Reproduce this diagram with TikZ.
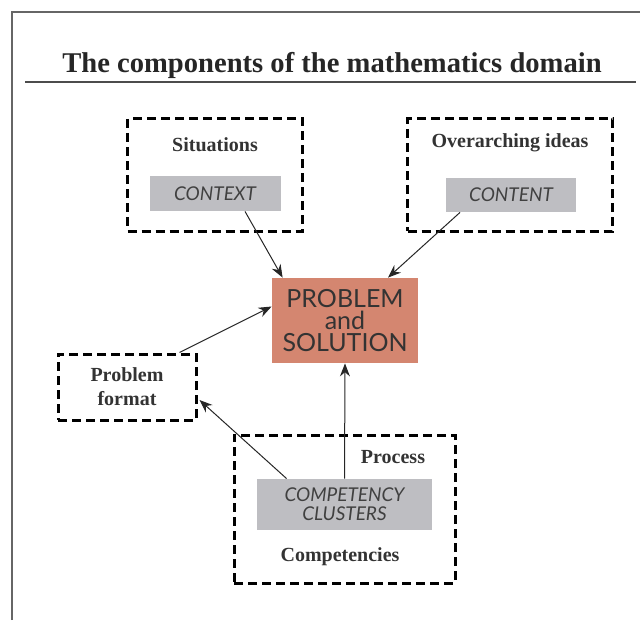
\documentclass[tikz,border=0pt]{standalone}
\usepackage{fontspec}
\setmainfont{Liberation Serif}
\newfontfamily\boxfont{Lato}
\usepackage{tikz}
\usetikzlibrary{arrows.meta}

\definecolor{salmon}{HTML}{D48670}
\definecolor{panel}{HTML}{BEBEC2}

\begin{document}
\begin{tikzpicture}[x=0.5pt, y=-0.5pt, >={Stealth[length=6.5pt, width=5pt]},
	dashbox/.style={draw, line width=1.5pt, dash pattern=on 4.5pt off 2.5pt, inner sep=0pt},
	label/.style={font=\fontsize{10}{12}\selectfont\bfseries, text=black!80},
	panelbox/.style={fill=panel, inner sep=0pt, font=\boxfont\itshape\fontsize{9.5}{9.5}\selectfont, text=black!75, align=center},
	link/.style={->, line width=0.5pt, black!85}]
	\useasboundingbox (0,0) rectangle (640,620);
	\draw[line width=1pt, black!60] (12,620) -- (12,12) -- (640,12);
	\node[font=\fontsize{14.3}{16}\selectfont\bfseries, text=black!85] (title) at (332,65) {The components of the mathematics domain};
	\draw[line width=0.8pt, black!70] (25,82) -- (636,82);
	% outer dashed frames
	\node[dashbox, minimum width=87.5pt, minimum height=56pt] (situations) at (215,175) {};
	\node[dashbox, minimum width=102.5pt, minimum height=56pt] (ideas) at (510,175) {};
	\node[dashbox, minimum width=69pt, minimum height=33pt, label, align=center] (format) at (127,387) {Problem\\format};
	\node[dashbox, minimum width=110.5pt, minimum height=74pt] (competencies) at (344.5,509) {};
	\node[label] (sitlabel) at (215,145) {Situations};
	\node[label] (idealabel) at (510,143) {Overarching ideas};
	\node[label] (proclabel) at (393,457) {Process};
	\node[label] (complabel) at (340,557) {Competencies};
	% grey panels
	\node[panelbox, minimum width=65.5pt, minimum height=17.5pt] (context) at (215,193.5) {CONTEXT};
	\node[panelbox, minimum width=65pt, minimum height=17pt] (content) at (511,195) {CONTENT};
	\node[panelbox, minimum width=87.5pt, minimum height=25.5pt] (clusters) at (344.5,504.5) {COMPETENCY\\CLUSTERS};
	\node[fill=salmon, minimum width=73pt, minimum height=42.5pt, inner sep=0pt, align=center,
		font=\boxfont\fontsize{12.5}{11}\selectfont, text=black!80] (problem) at (345,320.5) {PROBLEM\\and\\SOLUTION};
	% arrows
	\draw[link] ([xshift=15pt]context.south) -- ([xshift=5.5pt]problem.north west);
	\draw[link] ([xshift=-25.5pt]content.south) -- ([xshift=21.5pt]problem.north);
	\draw[link] ([xshift=-9pt]format.north east) -- ([yshift=7pt]problem.west);
	\draw[link] (clusters.north) -- (problem.south);
	\draw[link] ([xshift=15pt]clusters.north west) -- ([xshift=1pt, yshift=-6.5pt]format.east);
\end{tikzpicture}
\end{document}
